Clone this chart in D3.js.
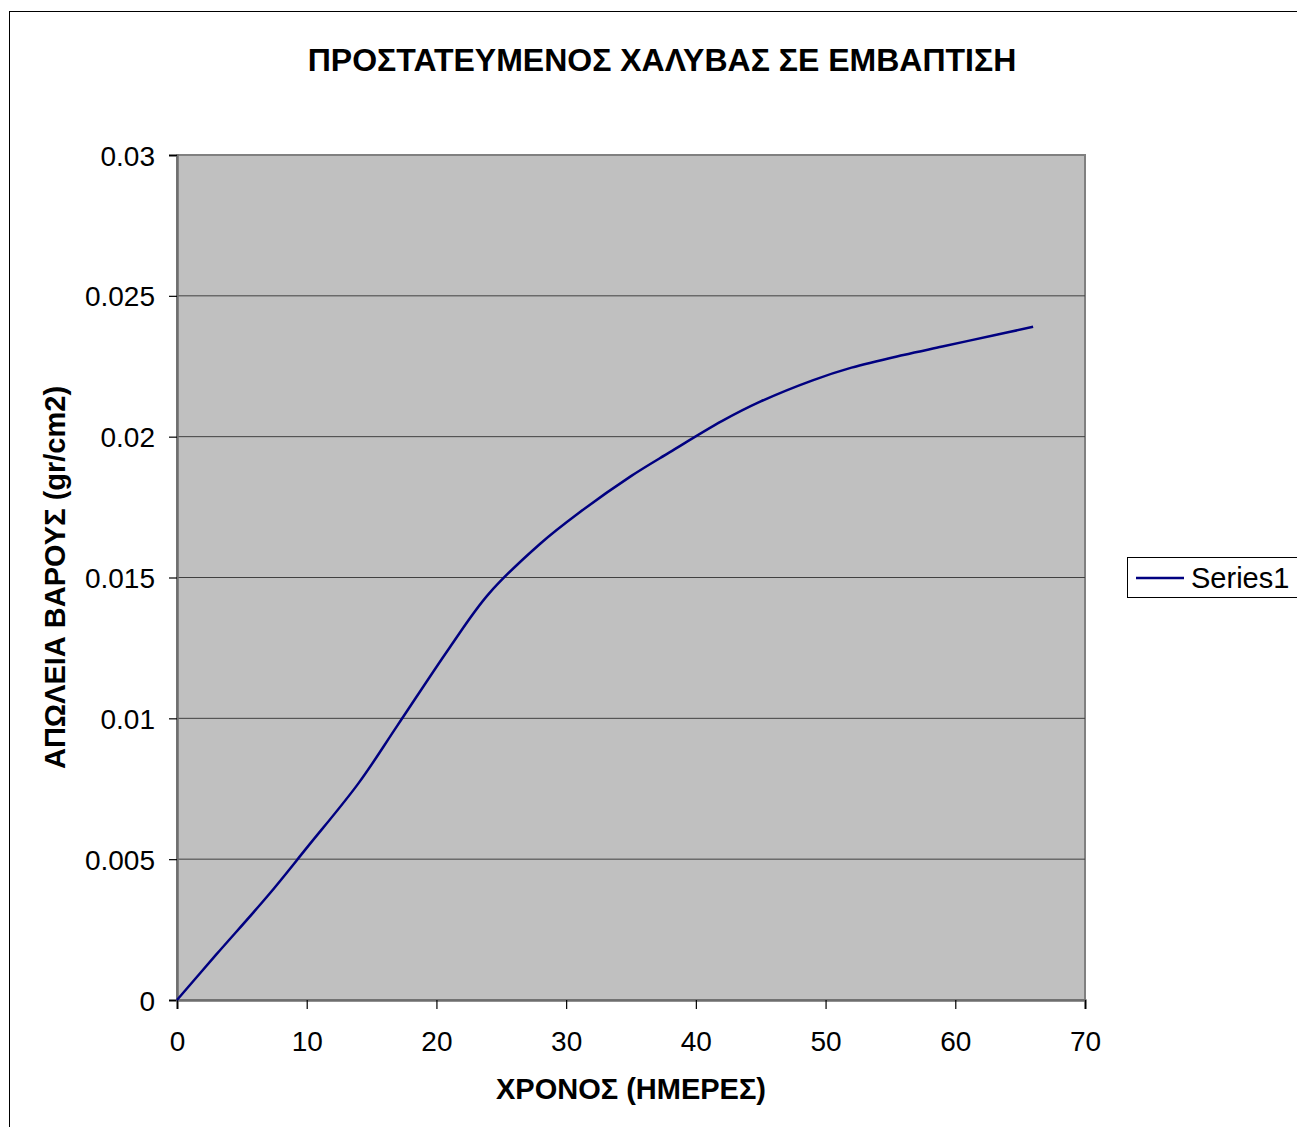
<!DOCTYPE html>
<html>
<head>
<meta charset="utf-8">
<script src="https://cdn.jsdelivr.net/npm/d3@7"></script>
<style>
  html, body { margin: 0; padding: 0; background: #fff; }
  svg { display: block; font-family: "Liberation Sans", Arial, sans-serif; }
</style>
</head>
<body>
<svg id="chart" width="1297" height="1127"></svg>
<script>
// Measurement days and weight loss (gr/cm2) for protected steel in immersion
const days = [0, 3, 7, 10, 14, 17, 21, 24, 28, 31, 35, 38, 42, 45, 49, 52, 56, 59, 63, 66];
const weightLoss = [0, 0.0016, 0.0037, 0.0054, 0.0077, 0.00975, 0.0125, 0.0144, 0.0162, 0.0173,
                    0.0186, 0.01945, 0.02055, 0.02125, 0.0220, 0.02245, 0.0229, 0.0232, 0.0236, 0.0239];
const xTicks = [0, 10, 20, 30, 40, 50, 60, 70];
const yTicks = [0, 0.005, 0.01, 0.015, 0.02, 0.025, 0.03];
const seriesName = "Series1";

const svg = d3.select("#chart");
const plot = { left: 177, right: 1085, top: 155, bottom: 1000 };

// Outer chart frame
svg.append("rect")
  .attr("x", 9.5).attr("y", 11.5)
  .attr("width", 1300).attr("height", 1130)
  .attr("fill", "#fff").attr("stroke", "#000").attr("stroke-width", 1);

const x = d3.scaleLinear().domain([0, 70]).range([plot.left, plot.right]);
const y = d3.scaleLinear().domain([0, 0.03]).range([plot.bottom, plot.top]);

// Plot area
svg.append("rect")
  .attr("x", plot.left).attr("y", plot.top)
  .attr("width", plot.right - plot.left).attr("height", plot.bottom - plot.top)
  .attr("fill", "#c0c0c0").attr("stroke", "#808080").attr("stroke-width", 2);

// Horizontal gridlines
svg.append("g")
  .selectAll("line")
  .data(yTicks.filter(d => d > 0 && d < 0.03))
  .join("line")
  .attr("x1", plot.left).attr("x2", plot.right)
  .attr("y1", d => y(d)).attr("y2", d => y(d))
  .attr("stroke", "#404040").attr("stroke-width", 1);

// Axes
const yAxis = svg.append("g")
  .attr("transform", `translate(${plot.left},0)`)
  .call(d3.axisLeft(y).tickValues(yTicks).tickSize(8).tickPadding(14)
    .tickFormat(d => d === 0 ? "0" : String(+d.toFixed(3))));
const xAxis = svg.append("g")
  .attr("transform", `translate(0,${plot.bottom})`)
  .call(d3.axisBottom(x).tickValues(xTicks).tickSize(9).tickPadding(22).tickFormat(d3.format("d")));

[yAxis, xAxis].forEach(g => {
  g.select(".domain").attr("stroke", "#6e6e6e").attr("stroke-width", 2.5);
  g.selectAll(".tick line").attr("stroke", "#000").attr("stroke-width", 1.2);
  g.selectAll(".tick text")
    .attr("fill", "#000")
    .style("font-size", "28px")
    .style("font-family", "'Liberation Sans', Arial, sans-serif");
});
yAxis.selectAll(".tick text").attr("dy", "0.36em");
xAxis.selectAll(".tick text").attr("dy", "0.72em");

// Series line (smoothed)
const line = d3.line()
  .x((d, i) => x(days[i]))
  .y(d => y(d))
  .curve(d3.curveCatmullRom.alpha(0.5));

svg.append("path")
  .datum(weightLoss)
  .attr("d", line)
  .attr("fill", "none")
  .attr("stroke", "#000080")
  .attr("stroke-width", 2.5);

// Title
svg.append("text")
  .attr("x", 662).attr("y", 71)
  .attr("text-anchor", "middle")
  .style("font-size", "32px").style("font-weight", "bold")
  .text("ΠΡΟΣΤΑΤΕΥΜΕΝΟΣ ΧΑΛΥΒΑΣ ΣΕ ΕΜΒΑΠΤΙΣΗ");

// Axis titles
svg.append("text")
  .attr("x", (plot.left + plot.right) / 2).attr("y", 1099)
  .attr("text-anchor", "middle")
  .style("font-size", "29px").style("font-weight", "bold")
  .text("ΧΡΟΝΟΣ (ΗΜΕΡΕΣ)");

svg.append("text")
  .attr("transform", `translate(65,${(plot.top + plot.bottom) / 2}) rotate(-90)`)
  .attr("text-anchor", "middle")
  .style("font-size", "29px").style("font-weight", "bold")
  .text("ΑΠΩΛΕΙΑ ΒΑΡΟΥΣ (gr/cm2)");

// Legend
const legend = svg.append("g").attr("transform", "translate(1127,557)");
legend.append("rect")
  .attr("x", 0.5).attr("y", 0.5).attr("width", 200).attr("height", 40)
  .attr("fill", "#fff").attr("stroke", "#000").attr("stroke-width", 1);
legend.append("line")
  .attr("x1", 9).attr("x2", 57).attr("y1", 21).attr("y2", 21)
  .attr("stroke", "#000080").attr("stroke-width", 2.5);
legend.append("text")
  .attr("x", 64).attr("y", 31)
  .style("font-size", "29px")
  .text(seriesName);
</script>
</body>
</html>
